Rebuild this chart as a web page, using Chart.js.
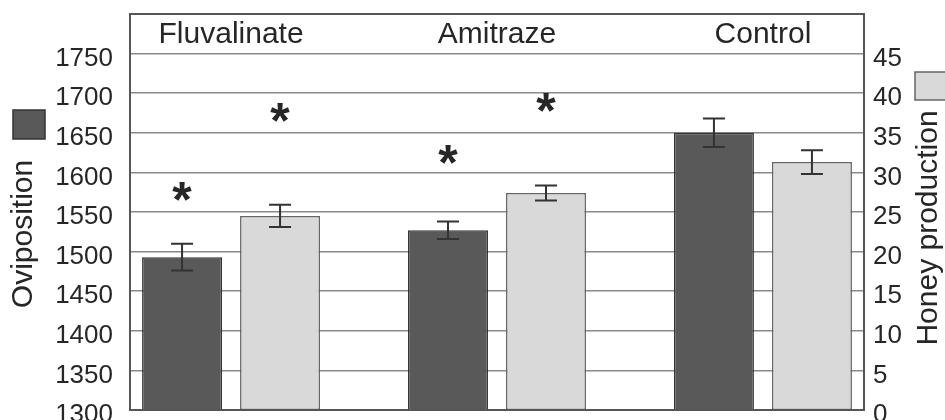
<!DOCTYPE html>
<html>
<head>
<meta charset="utf-8">
<script src="https://cdn.jsdelivr.net/npm/chart.js@4"></script>
<style>
  html, body { margin: 0; padding: 0; background: #fff; }
</style>
</head>
<body>
<canvas id="myChart" width="945" height="420"></canvas>
<script>
const treatments = ["Fluvalinate", "Amitraze", "Control"];
const oviposition = [1493, 1527, 1650];
const ovipositionErr = [17, 11, 18];
const honey = [24.5, 27.4, 31.3];
const honeyErr = [1.4, 0.95, 1.5];
// significance stars, in each axis' own units (null = no star)
const ovipositionStars = [1576, 1622, null];
const honeyStars = [37.6, 38.8, null];
const ovipositionTicks = [1300, 1350, 1400, 1450, 1500, 1550, 1600, 1650, 1700, 1750];
const honeyTicks = [0, 5, 10, 15, 20, 25, 30, 35, 40, 45];

const FONT = "'Liberation Sans', Arial, sans-serif";
const TEXT = "#262626";

const toPoints = (arr) => arr.map((v, i) => ({ x: i, y: v }));

// error bars + stars on top of the bars
const marks = {
	id: "marks",
	afterDatasetsDraw(chart) {
		const ctx = chart.ctx;
		ctx.save();
		chart.data.datasets.forEach((ds, d) => {
			const meta = chart.getDatasetMeta(d);
			const scale = chart.scales[ds.yAxisID];
			meta.data.forEach((bar, i) => {
				const v = ds.data[i].y;
				const e = ds.errors[i];
				const top = scale.getPixelForValue(v + e);
				const bot = scale.getPixelForValue(v - e);
				ctx.strokeStyle = "#333";
				ctx.lineWidth = 2;
				ctx.beginPath();
				ctx.moveTo(bar.x, top); ctx.lineTo(bar.x, bot);
				ctx.moveTo(bar.x - 11, top); ctx.lineTo(bar.x + 11, top);
				ctx.moveTo(bar.x - 11, bot); ctx.lineTo(bar.x + 11, bot);
				ctx.stroke();

				const s = ds.stars[i];
				if (s !== null) {
					ctx.font = "bold 50px " + FONT;
					ctx.fillStyle = TEXT;
					ctx.textAlign = "center";
					ctx.textBaseline = "alphabetic";
					const m = ctx.measureText("*");
					const cy = scale.getPixelForValue(s);
					ctx.fillText("*", bar.x, cy + (m.actualBoundingBoxAscent - m.actualBoundingBoxDescent) / 2);
				}
			});
		});

		// frame
		const a = chart.chartArea;
		ctx.strokeStyle = "#555";
		ctx.lineWidth = 2;
		ctx.strokeRect(a.left, a.top, a.right - a.left, a.bottom - a.top);

		// treatment names in the top band
		ctx.font = "30px " + FONT;
		ctx.fillStyle = TEXT;
		ctx.textAlign = "center";
		ctx.textBaseline = "alphabetic";
		treatments.forEach((t, i) => {
			ctx.fillText(t, chart.scales.x.getPixelForValue(i), a.top + 29);
		});
		ctx.restore();
	},
	afterDraw(chart) {
		// axis titles with their legend swatches, both read bottom-to-top
		const ctx = chart.ctx;
		ctx.save();
		ctx.font = "30px " + FONT;
		ctx.fillStyle = TEXT;
		ctx.textAlign = "center";
		ctx.textBaseline = "middle";
		[["Oviposition", 24, 234], ["Honey production", 929, 228]].forEach(([t, x, y]) => {
			ctx.save();
			ctx.translate(x, y);
			ctx.rotate(-Math.PI / 2);
			ctx.fillText(t, 0, 0);
			ctx.restore();
		});
		ctx.lineWidth = 1.5;
		ctx.fillStyle = "#595959"; ctx.strokeStyle = "#333";
		ctx.fillRect(13, 110, 32, 29); ctx.strokeRect(13, 110, 32, 29);
		ctx.fillStyle = "#d9d9d9"; ctx.strokeStyle = "#666";
		ctx.fillRect(915, 72, 32, 28); ctx.strokeRect(915, 72, 32, 28);
		ctx.restore();
	}
};

const ctx = document.getElementById("myChart");
new Chart(ctx, {
	type: "bar",
	data: {
		datasets: [
			{
				label: "Oviposition",
				data: toPoints(oviposition),
				errors: ovipositionErr,
				stars: ovipositionStars,
				yAxisID: "y",
				backgroundColor: "#595959",
				borderColor: "#333",
				borderWidth: 1.5,
				borderSkipped: false,
			},
			{
				label: "Honey production",
				data: toPoints(honey),
				errors: honeyErr,
				stars: honeyStars,
				yAxisID: "y1",
				backgroundColor: "#d9d9d9",
				borderColor: "#666",
				borderWidth: 1.5,
				borderSkipped: false,
			},
		],
	},
	options: {
		responsive: false,
		animation: false,
		categoryPercentage: 0.737,
		barPercentage: 0.816,
		layout: { padding: { top: 14, bottom: 10, left: 0, right: 0 } },
		plugins: {
			legend: { display: false },
			tooltip: { enabled: false },
		},
		scales: {
			x: {
				type: "linear",
				display: false,
				offset: false,
				min: -0.38,
				max: 2.38,
				afterBuildTicks: (axis) => {
					axis.ticks = treatments.map((t, i) => ({ value: i }));
				},
			},
			y: {
				position: "left",
				min: 1300,
				max: 1800,
				ticks: {
					stepSize: 50,
					padding: 17,
					labelOffset: 5,
					color: TEXT,
					font: { family: FONT, size: 26 },
					callback: (v) => (ovipositionTicks.includes(v) ? v : ""),
				},
				grid: { color: "#8a8a8a", lineWidth: 1.5, drawTicks: false },
				border: { display: false },
				afterFit: (s) => { s.width = 130; s.paddingTop = 0; s.paddingBottom = 0; },
			},
			y1: {
				position: "right",
				min: 0,
				max: 50,
				ticks: {
					stepSize: 5,
					padding: 9,
					labelOffset: 5,
					color: TEXT,
					font: { family: FONT, size: 26 },
					callback: (v) => (honeyTicks.includes(v) ? v : ""),
				},
				grid: { display: false, drawTicks: false },
				border: { display: false },
				afterFit: (s) => { s.width = 81; s.paddingTop = 0; s.paddingBottom = 0; },
			},
		},
	},
	plugins: [marks],
});
</script>
</body>
</html>
